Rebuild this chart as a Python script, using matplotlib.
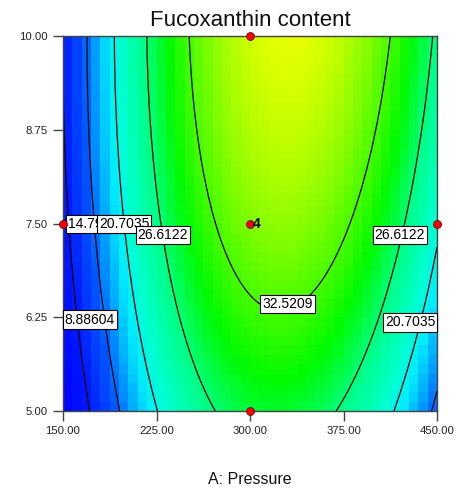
import numpy as np
import matplotlib
matplotlib.use("Agg")
import matplotlib.pyplot as plt
from matplotlib.colors import LinearSegmentedColormap, Normalize

# ---- data (quadratic response-surface model, coded units) ----
coef_names = ["b0", "A", "B", "AB", "A2", "B2"]
coef_values = [34.49, 7.0, 4.54, 1.5, -20.0, -1.63]
contour_levels = [8.88604, 14.7947, 20.7035, 26.6122, 32.5209]
level_labels = ["8.88604", "14.7947", "20.7035", "26.6122", "32.5209"]
design_x = [300, 300, 150, 450, 300]
design_y = [10.0, 5.0, 7.5, 7.5, 7.5]
center_reps = "4"
x_ticks = [150, 225, 300, 375, 450]
x_ticklabels = ["150.00", "225.00", "300.00", "375.00", "450.00"]
y_ticks = [5.0, 6.25, 7.5, 8.75, 10.0]
y_ticklabels = ["5.00", "6.25", "7.50", "8.75", "10.00"]
x_range = (150, 450)
y_range = (5.0, 10.0)

# label placement (text, x, y, alignment)
label_pos = [
    ("14.7947", 154.0, 7.49, "left"),
    ("20.7035", 199.0, 7.49, "center"),
    ("26.6122", 230.2, 7.35, "center"),
    ("26.6122", 420.3, 7.35, "center"),
    ("32.5209", 330.1, 6.43, "center"),
    ("8.88604", 171.5, 6.22, "center"),
    ("20.7035", 428.5, 6.18, "center"),
]

def model(P, Y):
    c = dict(zip(coef_names, coef_values))
    a = (P - 300.0) / 150.0
    b = (Y - 7.5) / 2.5
    return (c["b0"] + c["A"] * a + c["B"] * b + c["AB"] * a * b
            + c["A2"] * a * a + c["B2"] * b * b)

plt.rcParams['font.family'] = ['Liberation Sans', 'DejaVu Sans']

fig = plt.figure(figsize=(4.57, 4.91), dpi=100)
ax = fig.add_axes([63/457, 1-411/491, (437-63)/457, (411-36)/491])

# colour map
anchors = [
    (2.8, (0, 0, 255)),
    (9.0, (0, 25, 255)),
    (14.0, (0, 85, 255)),
    (17.0, (0, 165, 255)),
    (19.5, (0, 235, 255)),
    (22.0, (0, 255, 210)),
    (26.0, (0, 255, 140)),
    (30.0, (0, 250, 0)),
    (38.3, (228, 255, 0)),
]
vmin, vmax = anchors[0][0], anchors[-1][0]
cmap = LinearSegmentedColormap.from_list(
    "de", [((v - vmin) / (vmax - vmin), tuple(np.array(c) / 255)) for v, c in anchors])
norm = Normalize(vmin=vmin, vmax=vmax)

# blocky background
nb = 40
xe = np.linspace(*x_range, nb + 1)
ye = np.linspace(*y_range, nb + 1)
xc = (xe[:-1] + xe[1:]) / 2
yc = (ye[:-1] + ye[1:]) / 2
XC, YC = np.meshgrid(xc, yc)
ax.pcolormesh(xe, ye, model(XC, YC), cmap=cmap, norm=norm, shading="flat")

# contour lines
xf = np.linspace(*x_range, 300)
yf = np.linspace(*y_range, 300)
XF, YF = np.meshgrid(xf, yf)
ax.contour(XF, YF, model(XF, YF), levels=contour_levels, colors="black", linewidths=0.9)

# labels
for txt, lx, ly, ha in label_pos:
    ax.text(lx, ly, txt, fontsize=10, ha=ha, va="center", zorder=5,
            bbox=dict(boxstyle="square,pad=0.15", fc="white", ec="black", lw=0.8))

# design points
ax.scatter(design_x, design_y, s=32, c="red", edgecolors="#600000", linewidths=0.6,
           zorder=6, clip_on=False)
ax.text(design_x[-1] + 2.5, design_y[-1], center_reps, fontsize=10, fontweight="bold",
        ha="left", va="center", zorder=7)

ax.set_xlim(*x_range)
ax.set_ylim(*y_range)
ax.set_xticks(x_ticks)
ax.set_xticklabels(x_ticklabels)
ax.set_yticks(y_ticks)
ax.set_yticklabels(y_ticklabels)
ax.tick_params(direction="out", length=7, width=1, color="#444444", labelsize=8.2,
               labelcolor="#222222", pad=4)
for s in ax.spines.values():
    s.set_color("#444444")
    s.set_linewidth(1.0)

ax.set_title("Fucoxanthin content", fontsize=16, pad=7, color="#111111")
ax.set_xlabel("A: Pressure", fontsize=11.5, labelpad=26, color="#111111")

fig.savefig("out.png", dpi=100)
